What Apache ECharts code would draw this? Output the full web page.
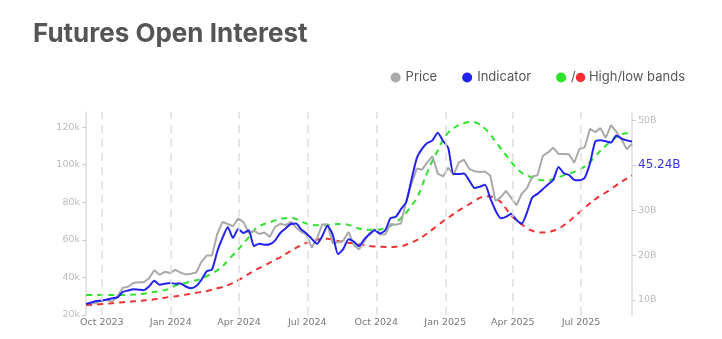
<!DOCTYPE html>
<html><head><meta charset="utf-8">
<script src="https://cdn.jsdelivr.net/npm/echarts@6/dist/echarts.min.js"></script>
<style>html,body{margin:0;padding:0;background:#fff}#c{width:722px;height:339px}</style>
</head><body><div id="c"></div>
<script>
// weekly samples starting on this date
const startDate = '2023-09-10';
const weekCount = 105;

// BTC price (thousands USD), left axis
const price = [25.8,26.5,26.3,27.9,27.9,27.2,30.0,34.5,35.0,37.0,
37.4,37.4,39.5,43.8,41.4,43.0,42.3,44.0,42.5,41.6,
42.0,42.6,48.3,51.7,51.7,63.1,69.5,68.4,67.2,71.3,
69.4,63.5,64.9,63.1,63.9,61.5,66.9,68.5,67.8,69.6,
66.6,64.2,62.7,55.8,60.8,68.2,68.3,58.1,58.7,59.5,
64.2,57.3,54.8,59.2,63.6,65.6,62.8,62.9,68.4,68.0,
68.7,80.5,89.8,97.9,97.3,101.2,104.5,95.2,93.7,98.3,
94.5,101.1,102.6,97.7,96.5,96.1,96.3,94.2,80.7,82.6,
86.1,82.3,78.4,84.5,87.5,93.7,94.3,104.6,106.5,109.0,
105.7,105.7,105.5,101.0,108.4,109.2,119.1,117.3,119.4,114.2,
121.0,117.5,113.5,108.2,111.1];

// Indicator (billions), right axis
const indicator = [9.1,9.45,9.8,9.85,10.1,10.4,10.6,11.8,12.1,12.4,
12.3,12.2,13.0,14.3,13.4,13.6,13.8,13.6,13.7,13.0,
12.6,13.1,14.5,16.4,16.8,20.8,23.8,26.2,23.8,25.8,
24.9,25.5,22.0,22.5,22.3,22.4,23.2,24.9,25.9,26.9,
27.0,25.7,24.8,23.6,22.5,24.2,26.5,24.5,20.2,21.3,
23.5,23.0,22.0,23.5,24.6,25.5,24.8,25.5,28.2,28.5,
30.2,31.8,36.8,41.5,43.6,44.9,45.5,47.2,45.4,43.8,
38.0,38.0,38.1,36.6,34.9,35.2,35.6,32.6,29.9,28.2,
28.5,29.2,27.8,27.0,29.5,32.8,33.6,34.6,35.7,36.7,
39.6,38.2,37.8,36.7,36.6,37.2,40.4,45.2,45.5,45.3,
45.0,46.6,45.9,45.5,45.24];

// High band (billions)
const highBand = [11.1,11.1,11.1,11.1,11.1,11.1,11.1,11.1,11.15,11.2,
11.3,11.4,11.6,11.8,12.0,12.2,12.6,13.2,13.6,13.8,
14.2,14.4,14.7,15.3,15.9,16.6,17.5,18.8,20.0,21.2,
22.6,24.0,25.5,26.4,26.9,27.3,27.7,28.0,28.2,28.3,
28.0,27.5,27.0,26.7,26.6,26.6,26.7,26.8,26.9,26.9,
26.7,26.3,25.9,25.7,25.6,25.6,25.7,26.0,26.5,27.2,
28.2,29.4,31.0,32.6,35.4,38.3,41.0,43.2,45.6,47.2,
48.2,48.9,49.3,49.6,49.5,49.0,48.1,46.8,45.2,43.7,
42.2,40.7,39.3,38.3,37.7,37.2,36.8,36.6,36.6,36.9,
37.3,37.7,38.1,38.5,39.0,39.7,40.7,42.0,43.2,44.3,
45.3,46.2,46.8,47.1,47.2];

// Low band (billions)
const lowBand = [8.9,8.95,9.0,9.1,9.2,9.3,9.4,9.5,9.6,9.7,
9.8,9.9,10.0,10.15,10.3,10.5,10.7,10.85,11.0,11.2,
11.4,11.6,11.8,12.0,12.3,12.6,12.9,13.3,13.8,14.4,
15.1,15.8,16.5,17.1,17.7,18.3,18.9,19.5,20.2,20.9,
21.6,22.2,22.7,23.1,23.4,23.6,23.6,23.4,23.1,22.9,
22.7,22.6,22.4,22.2,22.0,21.9,21.85,21.8,21.8,21.85,
22.0,22.3,22.8,23.3,24.0,24.8,25.7,26.6,27.5,28.3,
29.1,29.9,30.6,31.3,32.0,32.7,33.1,33.0,32.6,31.8,
30.3,28.8,27.7,26.8,26.0,25.4,25.1,25.0,25.1,25.4,
25.9,26.6,27.5,28.5,29.5,30.5,31.5,32.4,33.2,33.9,
34.7,35.5,36.3,37.0,37.7];

const xTickDates = ['2023-10-01','2024-01-01','2024-04-01','2024-07-01','2024-10-01','2025-01-01','2025-04-01','2025-07-01'];
const xTickLabels = ['Oct 2023','Jan 2024','Apr 2024','Jul 2024','Oct 2024','Jan 2025','Apr 2025','Jul 2025'];
const priceTicks = [20,40,60,80,100,120];
const oiTicks = [10,20,30,40,50];

const DAY = 86400000;
const toTime = s => { const [y,m,d]=s.split('-').map(Number); return Date.UTC(y,m-1,d); };
const t0 = toTime(startDate);
const times = Array.from({length:weekCount}, (_,i)=> t0 + i*7*DAY);
const pair = arr => arr.map((v,i)=>[times[i], v]);
const tickTimes = xTickDates.map(toTime);
const currentLabel = indicator[indicator.length-1].toFixed(2)+'B';

const chart = echarts.init(document.getElementById('c'), null, {renderer:'canvas'});
const axisFont = 'DejaVu Sans';
chart.setOption({
  animation:false,
  backgroundColor:'#fff',
  title:{text:'Futures Open Interest', left:33, top:21, padding:0,
    textStyle:{fontFamily:'Inter', fontWeight:'bold', fontSize:26, color:'#555'}},
  legend:{right:37, top:71, padding:0, icon:'circle', itemWidth:10, itemHeight:10, itemGap:25,
    selectedMode:false,
    data:['Price','Indicator','High band'],
    formatter: n => n==='High band' ? '/{dot|} High/low bands' : n,
    textStyle:{color:'#555', fontSize:13, fontFamily:'Inter',
      rich:{dot:{width:9.5,height:9.5,borderRadius:5,backgroundColor:'#ff2d2d'}}}},
  grid:{left:86, right:90, top:112, bottom:24, outerBoundsMode:'none'},
  xAxis:{type:'value', min:times[0], max:times[times.length-1],
    axisLine:{show:false}, axisTick:{show:false}, splitLine:{show:false},
    axisLabel:{customValues:tickTimes, color:'#777', fontSize:9.5, fontFamily:axisFont, margin:3,
      formatter: v => { let best=0; for(let i=0;i<tickTimes.length;i++){ if(Math.abs(tickTimes[i]-v)<Math.abs(tickTimes[best]-v)) best=i; } return xTickLabels[best]; }}},
  yAxis:[
    {type:'value', position:'left', min:20, max:128,
      axisLine:{show:true, lineStyle:{color:'#ddd', width:1.5}},
      axisTick:{show:true, length:4, customValues:priceTicks, lineStyle:{color:'#ccc'}},
      axisLabel:{customValues:priceTicks, formatter:v=>v+'k', color:'#bbb', fontSize:9.5, fontFamily:axisFont, margin:6},
      splitLine:{show:false}},
    {type:'value', position:'right', min:6.67, max:51.8,
      axisLine:{show:true, lineStyle:{color:'#ddd', width:1.5}},
      axisTick:{show:true, length:4, customValues:oiTicks, lineStyle:{color:'#ccc'}},
      axisLabel:{customValues:oiTicks, color:'#bbb', fontSize:9.5, fontFamily:axisFont, margin:6,
        formatter:v=> v===40 ? '{cur|'+currentLabel+'}' : v+'B',
        rich:{cur:{color:'#3535e0', fontSize:12, fontFamily:axisFont}}},
      splitLine:{show:false}}
  ],
  series:[
    {name:'High band', type:'line', yAxisIndex:1, data:pair(highBand), smooth:true, showSymbol:false,
      lineStyle:{color:'#2ee32e', width:2, type:[6,5]}, itemStyle:{color:'#2ee32e'},
      markLine:{silent:true, symbol:'none', label:{show:false}, animation:false,
        lineStyle:{color:'#dedede', type:[8,6], width:1.5},
        data:tickTimes.map(t=>({xAxis:t}))}},
    {name:'Low band', type:'line', yAxisIndex:1, data:pair(lowBand), smooth:true, showSymbol:false,
      lineStyle:{color:'#ee3333', width:2, type:[6,5]}, itemStyle:{color:'#ee3333'}},
    {name:'Price', type:'line', yAxisIndex:0, data:pair(price), showSymbol:false,
      lineStyle:{color:'#aaaaaa', width:2}, itemStyle:{color:'#aaaaaa'}},
    {name:'Indicator', type:'line', yAxisIndex:1, data:pair(indicator), smooth:0.2, showSymbol:false,
      lineStyle:{color:'#2323ee', width:2}, itemStyle:{color:'#2323ee'}}
  ]
});
</script></body></html>
